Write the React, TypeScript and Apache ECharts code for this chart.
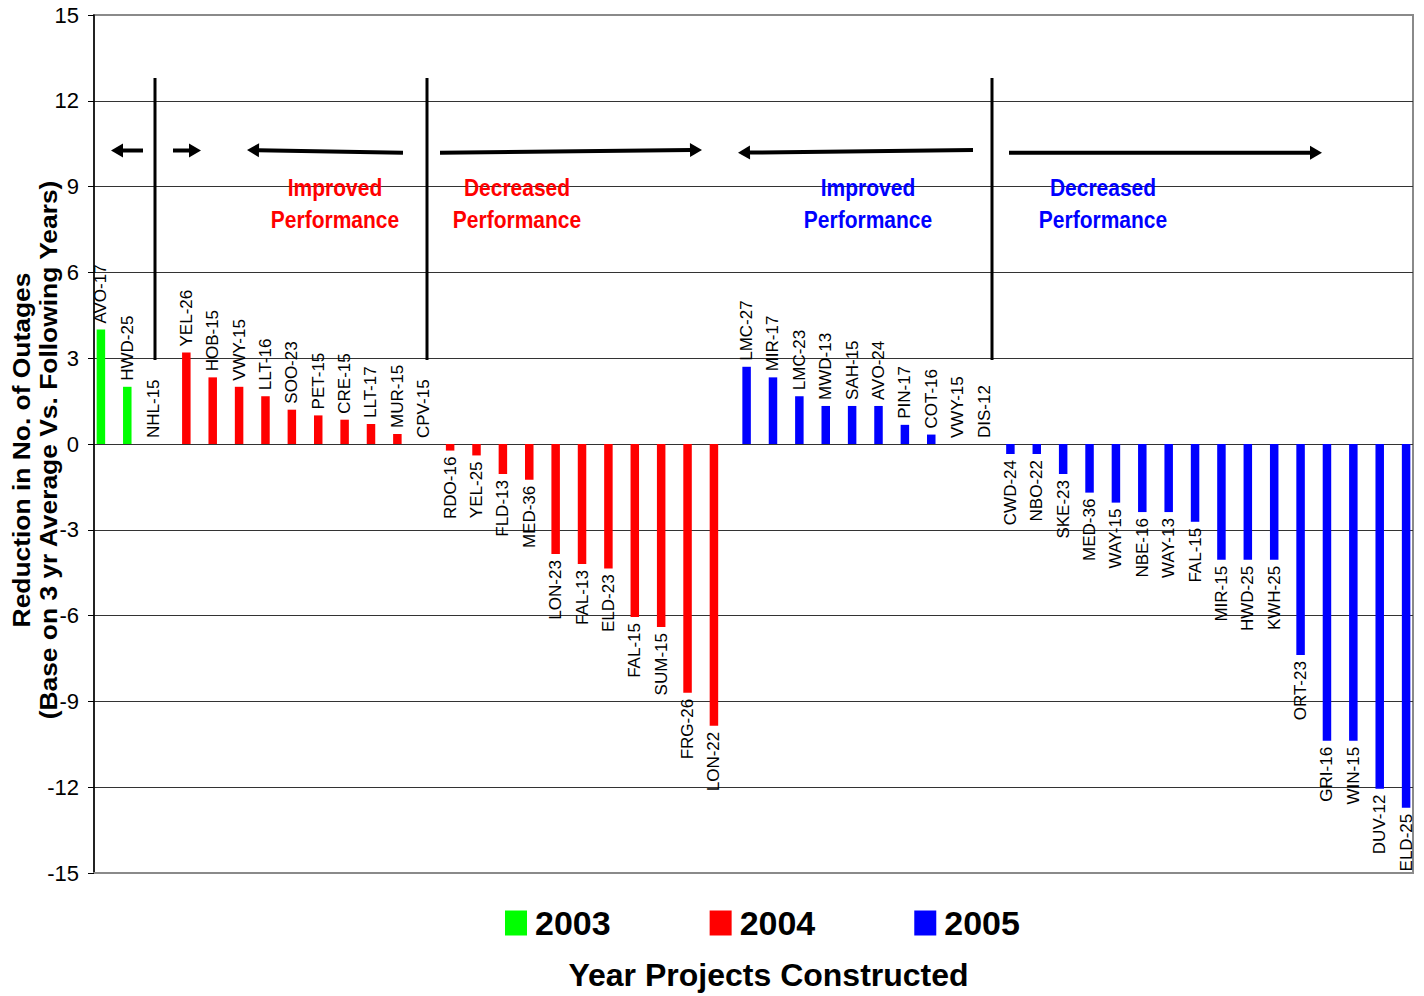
import React, { useEffect, useRef } from 'react';
import * as echarts from 'echarts';

// Projects grouped by construction year, with the change in outage count for each.
const names2003 = ['AVO-17', 'HWD-25', 'NHL-15'];
const values2003 = [4, 2, 0];

const names2004 = [
  'YEL-26', 'HOB-15', 'VWY-15', 'LLT-16', 'SOO-23', 'PET-15', 'CRE-15', 'LLT-17', 'MUR-15', 'CPV-15',
  'RDO-16', 'YEL-25', 'FLD-13', 'MED-36', 'LON-23', 'FAL-13', 'ELD-23', 'FAL-15', 'SUM-15', 'FRG-26', 'LON-22',
];
const values2004 = [
  3.2, 2.33, 2, 1.67, 1.2, 1, 0.85, 0.7, 0.35, 0,
  -0.23, -0.4, -1.05, -1.25, -3.85, -4.2, -4.35, -6.05, -6.4, -8.7, -9.85,
];

const names2005 = [
  'LMC-27', 'MIR-17', 'LMC-23', 'MWD-13', 'SAH-15', 'AVO-24', 'PIN-17', 'COT-16', 'VWY-15', 'DIS-12',
  'CWD-24', 'NBO-22', 'SKE-23', 'MED-36', 'WAY-15', 'NBE-16', 'WAY-13', 'FAL-15', 'MIR-15', 'HWD-25',
  'KWH-25', 'ORT-23', 'GRI-16', 'WIN-15', 'DUV-12', 'ELD-25',
];
const values2005 = [
  2.7, 2.33, 1.67, 1.33, 1.33, 1.33, 0.67, 0.33, 0, 0,
  -0.35, -0.35, -1.05, -1.7, -2.05, -2.38, -2.38, -2.72, -4.05, -4.05,
  -4.05, -7.38, -10.38, -10.38, -12.05, -12.72,
];

const years = ['2003', '2004', '2005'];
const yearColors = ['#00FF00', '#FF0000', '#0000FF'];
const groupNames = [names2003, names2004, names2005];
const groupValues = [values2003, values2004, values2005];

const yMin = -15;
const yMax = 15;
const yStep = 3;

const categories = [...names2003, ...names2004, ...names2005];

const FONT = '"Liberation Sans", Arial, sans-serif';

function buildSeriesData(groupIndex: number) {
  let start = 0;
  for (let g = 0; g < groupIndex; g++) start += groupNames[g].length;
  const vals = groupValues[groupIndex];
  return categories.map((_, i) => {
    const j = i - start;
    if (j < 0 || j >= vals.length) return null;
    const v = vals[j];
    const up = v >= 0;
    return {
      value: v,
      label: up
        ? { position: 'top', align: 'left', verticalAlign: 'middle' }
        : { position: 'bottom', align: 'right', verticalAlign: 'middle' },
    };
  });
}

// Arrow annotations: [x1, y1, x2, y2], head at the second point.
const arrows: number[][] = [
  [143, 150.5, 111, 150.5],
  [173, 150.5, 201, 150.5],
  [403, 152.7, 247, 150],
  [440, 152.7, 702, 150],
  [973, 150, 738, 152.7],
  [1009, 152.7, 1322, 152.7],
];
const dividers = [155, 427, 992];
const notes = [
  { x: 335, text: 'Improved\nPerformance', color: '#FF0000' },
  { x: 517, text: 'Decreased\nPerformance', color: '#FF0000' },
  { x: 868, text: 'Improved\nPerformance', color: '#0000FF' },
  { x: 1103, text: 'Decreased\nPerformance', color: '#0000FF' },
];

function arrowGraphics() {
  const out: any[] = [];
  const headLen = 12;
  const headHalf = 7;
  arrows.forEach(([x1, y1, x2, y2]) => {
    const dx = x2 - x1;
    const dy = y2 - y1;
    const len = Math.sqrt(dx * dx + dy * dy);
    const ux = dx / len;
    const uy = dy / len;
    const bx = x2 - ux * headLen;
    const by = y2 - uy * headLen;
    out.push({
      type: 'line',
      shape: { x1, y1, x2: bx + ux * 1, y2: by + uy * 1 },
      style: { stroke: '#000', lineWidth: 4 },
      z: 10,
    });
    out.push({
      type: 'polygon',
      shape: {
        points: [
          [x2, y2],
          [bx - uy * headHalf, by + ux * headHalf],
          [bx + uy * headHalf, by - ux * headHalf],
        ],
      },
      style: { fill: '#000' },
      z: 10,
    });
  });
  return out;
}

export default function App() {
  const ref = useRef<HTMLDivElement>(null);

  useEffect(() => {
    if (!ref.current) return;
    const chart = echarts.init(ref.current, undefined, { renderer: 'svg' });

    const splitColors: string[] = [];
    const nLines = Math.round((yMax - yMin) / yStep) + 1;
    for (let i = 0; i < nLines; i++) {
      splitColors.push(i === 0 || i === nLines - 1 ? '#8a8a8a' : '#333333');
    }

    const graphic: any[] = [];
    dividers.forEach((x) => {
      graphic.push({
        type: 'line',
        shape: { x1: x, y1: 78, x2: x, y2: 360 },
        style: { stroke: '#000', lineWidth: 3 },
        z: 10,
      });
    });
    graphic.push(...arrowGraphics());
    notes.forEach((n) => {
      graphic.push({
        type: 'text',
        x: n.x,
        y: 203,
        scaleY: 1.18,
        z: 10,
        style: {
          text: n.text,
          fill: n.color,
          font: `bold 21px ${FONT}`,
          textAlign: 'center',
          textVerticalAlign: 'middle',
          lineHeight: 27,
        },
      });
    });
    graphic.push({
      type: 'text',
      x: 35,
      y: 450,
      rotation: Math.PI / 2,
      scaleX: 1.1,
      z: 10,
      style: {
        text: 'Reduction in No. of Outages\n(Base on 3 yr Average Vs. Following Years)',
        fill: '#000',
        font: `bold 24px ${FONT}`,
        textAlign: 'center',
        textVerticalAlign: 'middle',
        lineHeight: 27,
      },
    });

    chart.setOption({
      animation: false,
      backgroundColor: '#ffffff',
      textStyle: { fontFamily: FONT },
      grid: {
        left: 94,
        right: 11,
        top: 15,
        bottom: 119,
        show: true,
        borderColor: '#8a8a8a',
        borderWidth: 2,
        backgroundColor: '#ffffff',
      },
      legend: {
        data: years,
        left: 505,
        top: 906,
        padding: 0,
        icon: 'rect',
        itemWidth: 22,
        itemHeight: 25,
        itemGap: 99,
        textStyle: {
          fontSize: 34,
          fontWeight: 'bold',
          color: '#000',
          fontFamily: FONT,
          padding: [0, 0, 0, 3],
        },
      },
      xAxis: {
        type: 'category',
        data: categories,
        axisLine: { show: true, onZero: false, lineStyle: { color: '#8a8a8a', width: 2 } },
        axisTick: { show: false },
        axisLabel: { show: false },
        splitLine: { show: false },
        name: 'Year Projects Constructed',
        nameLocation: 'middle',
        nameGap: 102,
        nameTextStyle: {
          fontSize: 32,
          fontWeight: 'bold',
          color: '#000',
          fontFamily: FONT,
          verticalAlign: 'middle',
          padding: [0, 0, 0, 30],
        },
      },
      yAxis: {
        type: 'value',
        min: yMin,
        max: yMax,
        interval: yStep,
        axisLine: { show: true, lineStyle: { color: '#000', width: 1.5 } },
        axisTick: { show: true, length: 6, lineStyle: { color: '#000', width: 1 } },
        axisLabel: { fontSize: 22, color: '#000', margin: 15, fontFamily: FONT },
        splitLine: { show: true, lineStyle: { color: splitColors, width: 1 } },
      },
      series: years.map((y, gi) => ({
        name: y,
        type: 'bar',
        data: buildSeriesData(gi),
        barWidth: 8.5,
        barGap: '-26%',
        itemStyle: { color: yearColors[gi] },
        label: {
          show: true,
          rotate: 90,
          distance: 6,
          fontSize: 17,
          color: '#000',
          fontFamily: FONT,
          formatter: (p: any) => categories[p.dataIndex],
        },
      })),
      graphic,
    });

    return () => {
      chart.dispose();
    };
  }, []);

  return (
    <div
      ref={ref}
      style={{ position: 'fixed', left: 0, top: 0, width: 1424, height: 996, background: '#fff' }}
    />
  );
}
